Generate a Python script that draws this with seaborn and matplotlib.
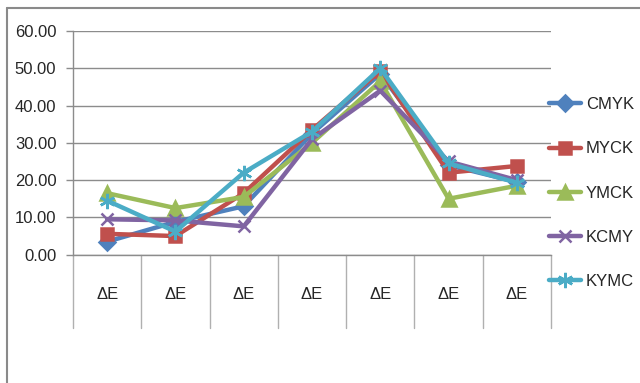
import matplotlib
matplotlib.use("Agg")
import matplotlib.pyplot as plt
import matplotlib.transforms as mtransforms
from matplotlib.lines import Line2D
import seaborn as sns

# Colour difference values per print sequence
categories = ["ΔE", "ΔE", "ΔE", "ΔE", "ΔE", "ΔE", "ΔE"]
series_names = ["CMYK", "MYCK", "YMCK", "KCMY", "KYMC"]
cmyk = [3.5, 8.8, 13.0, 32.5, 48.5, 24.0, 19.5]
myck = [5.6, 5.0, 16.5, 33.5, 49.3, 22.0, 23.8]
ymck = [16.5, 12.5, 15.5, 30.0, 46.5, 15.0, 18.5]
kcmy = [9.5, 9.2, 7.6, 31.0, 44.0, 25.0, 20.0]
kymc = [14.5, 6.2, 22.0, 33.0, 50.0, 24.5, 19.3]
y_ticks = [0, 10, 20, 30, 40, 50, 60]

values = [cmyk, myck, ymck, kcmy, kymc]
colors = ["#4F81BD", "#C0504D", "#9BBB59", "#8064A2", "#4BACC6"]
markers = ["D", "s", "^", "x", (6, 2, 0)]
msizes = [8, 9, 10, 9, 11]

sns.set_theme(style="white")
plt.rcParams["font.family"] = ["Liberation Sans", "DejaVu Sans"]

fig = plt.figure(figsize=(6.4, 3.83), dpi=100)
W, H = 640, 383
left, right, top, bottom = 73, 551, 31, 254.7
ax = fig.add_axes([left / W, 1 - bottom / H, (right - left) / W, (bottom - top) / H])

grid_c = "#8c8c8c"
positions = list(range(len(categories)))
for name, vals, c, m, ms in zip(series_names, values, colors, markers, msizes):
    sns.lineplot(x=positions, y=vals, ax=ax, color=c, marker=m, markersize=ms,
                 markeredgecolor=c, markerfacecolor=c, markeredgewidth=1.8,
                 linewidth=3.2, label=name, solid_joinstyle="round")

ax.set_xlim(-0.5, len(categories) - 0.5)
ax.set_ylim(0, 60)
ax.set_yticks(y_ticks)
ax.set_yticklabels([f"{v:.2f}" for v in y_ticks], fontsize=12, color="#262626")
ax.set_xticks(positions)
ax.set_xticklabels(categories, fontsize=12, color="#262626")
ax.tick_params(axis="x", length=0, pad=23)
ax.tick_params(axis="y", length=5, width=1, color=grid_c, pad=7, left=True)
ax.yaxis.grid(True, color=grid_c, linewidth=1)
ax.set_axisbelow(True)
for s in ["top", "right"]:
    ax.spines[s].set_visible(False)
for s in ["left", "bottom"]:
    ax.spines[s].set_color(grid_c)
    ax.spines[s].set_linewidth(1)
ax.set_xlabel("")
ax.set_ylabel("")

# category separators below the axis
trans = mtransforms.blended_transform_factory(ax.transData, ax.transAxes)
depth = (328 - bottom) / (bottom - top)
for b in range(len(categories) + 1):
    ax.plot([b - 0.5, b - 0.5], [0, -depth], transform=trans, color="#b0b0b0",
            linewidth=1, clip_on=False)

leg = ax.legend(loc="center left", bbox_to_anchor=(549 / W, 1 - 193 / H),
                bbox_transform=fig.transFigure, frameon=False, fontsize=12,
                handlelength=1.9, handletextpad=0.3, labelspacing=1.75,
                borderpad=0, borderaxespad=0)
for t in leg.get_texts():
    t.set_color("#262626")

# chart frame
fig.add_artist(Line2D([7 / W, 1], [1 - 8 / H, 1 - 8 / H], color="#8a8a8a", linewidth=1.5))
fig.add_artist(Line2D([7 / W, 7 / W], [0, 1 - 8 / H], color="#8a8a8a", linewidth=1.5))

fig.savefig("out.png", dpi=100)
